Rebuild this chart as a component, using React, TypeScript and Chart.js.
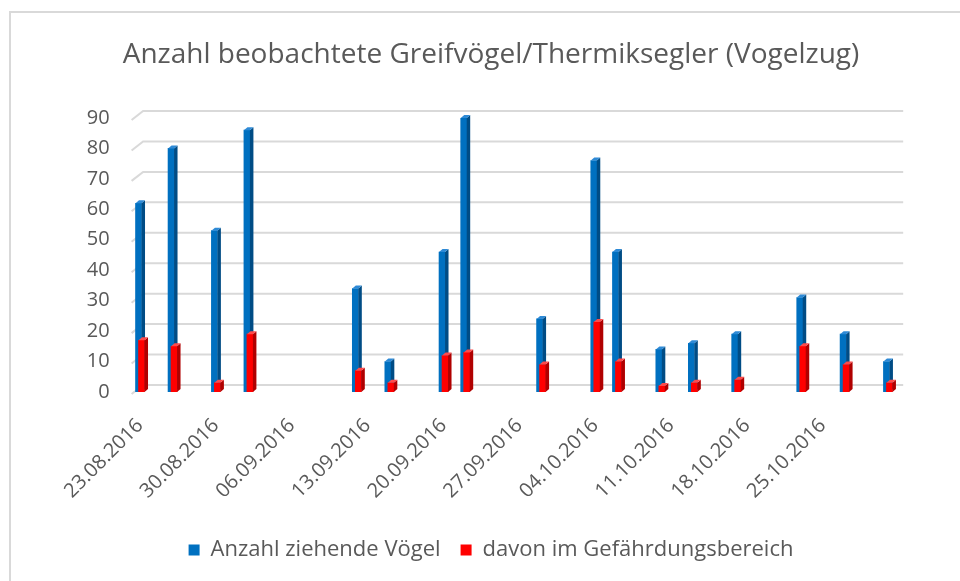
import React, { useEffect, useRef } from 'react';
import { Chart, registerables } from 'chart.js';

Chart.register(...registerables);

// ---- data ----
const chartTitle = 'Anzahl beobachtete Greifvögel/Thermiksegler (Vogelzug)';
const seriesNames = ['Anzahl ziehende Vögel', 'davon im Gefährdungsbereich'];
const axisStart = '23.08.2016';
const axisEnd = '01.11.2016';
const dates = [
  '23.08.2016', '26.08.2016', '30.08.2016', '02.09.2016', '12.09.2016', '15.09.2016',
  '20.09.2016', '22.09.2016', '29.09.2016', '04.10.2016', '06.10.2016', '10.10.2016',
  '13.10.2016', '17.10.2016', '23.10.2016', '27.10.2016', '31.10.2016',
];
const ziehend = [62, 80, 53, 86, 34, 10, 46, 90, 24, 76, 46, 14, 16, 19, 31, 19, 10];
const gefaehrdet = [17, 15, 3, 19, 7, 3, 12, 13, 9, 23, 10, 2, 3, 4, 15, 9, 3];
const xTickLabels = [
  '23.08.2016', '30.08.2016', '06.09.2016', '13.09.2016', '20.09.2016',
  '27.09.2016', '04.10.2016', '11.10.2016', '18.10.2016', '25.10.2016',
];
const yTickValues = [0, 10, 20, 30, 40, 50, 60, 70, 80, 90];

// ---- helpers ----
function dayIndex(s: string): number {
  const [d, m, y] = s.split('.').map(Number);
  const [d0, m0, y0] = axisStart.split('.').map(Number);
  return Math.round((Date.UTC(y, m - 1, d) - Date.UTC(y0, m0 - 1, d0)) / 86400000);
}

const FONT = "'Open Sans', 'Noto Sans', sans-serif";
const TEXT = '#595959';
const GRID = '#d9d9d9';

const faces = [
  { front: '#0070C0', side: '#004c85', cap: '#2e8ad6', shift: -1.5 },
  { front: '#FF0000', side: '#b00000', cap: '#ff4a4a', shift: 1.5 },
];

const framePlugin = {
  id: 'frame',
  beforeDraw(chart: any) {
    const { ctx, width, height } = chart;
    ctx.save();
    ctx.fillStyle = '#ffffff';
    ctx.fillRect(0, 0, width, height);
    ctx.strokeStyle = GRID;
    ctx.lineWidth = 2;
    ctx.beginPath();
    ctx.moveTo(10, height);
    ctx.lineTo(10, 12);
    ctx.lineTo(width, 12);
    ctx.stroke();
    ctx.restore();
  },
};

const gridPlugin = {
  id: 'grid3d',
  beforeDatasetsDraw(chart: any) {
    const { ctx, chartArea } = chart;
    const ys = chart.scales.y;
    ctx.save();
    ctx.strokeStyle = GRID;
    ctx.lineWidth = 2;
    yTickValues.forEach((v) => {
      const y = ys.getPixelForValue(v);
      ctx.beginPath();
      ctx.moveTo(chartArea.left - 3, y + 2);
      ctx.lineTo(chartArea.left + 8.5, y - 7);
      ctx.lineTo(chartArea.right - 1, y - 7);
      ctx.stroke();
    });
    ctx.restore();
  },
};

const bar3dPlugin = {
  id: 'bar3d',
  beforeDatasetDraw(chart: any, args: any) {
    chart.ctx.save();
    chart.ctx.translate(faces[args.index].shift, 0);
  },
  afterDatasetDraw(chart: any, args: any) {
    const ctx = chart.ctx;
    const f = faces[args.index];
    const dx = 3.5;
    const dy = 3;
    args.meta.data.forEach((el: any) => {
      const { x, y, base, width } = el.getProps(['x', 'y', 'base', 'width'], true);
      const l = x - width / 2;
      const r = x + width / 2;
      ctx.fillStyle = f.side;
      ctx.beginPath();
      ctx.moveTo(r, y);
      ctx.lineTo(r + dx, y - dy);
      ctx.lineTo(r + dx, base - dy);
      ctx.lineTo(r, base);
      ctx.closePath();
      ctx.fill();
      ctx.fillStyle = f.cap;
      ctx.beginPath();
      ctx.moveTo(l, y);
      ctx.lineTo(l + dx, y - dy);
      ctx.lineTo(r + dx, y - dy);
      ctx.lineTo(r, y);
      ctx.closePath();
      ctx.fill();
    });
    ctx.restore();
  },
};

export default function App() {
  const canvasRef = useRef<HTMLCanvasElement>(null);

  useEffect(() => {
    if (!canvasRef.current) return;
    const xs = dates.map(dayIndex);
    const xTickValues = xTickLabels.map(dayIndex);
    const lastDay = dayIndex(axisEnd);

    const chart = new Chart(canvasRef.current, {
      type: 'bar',
      data: {
        datasets: [
          {
            label: seriesNames[0],
            data: xs.map((x, i) => ({ x, y: ziehend[i] })),
            backgroundColor: faces[0].front,
            borderWidth: 0,
            barThickness: 6,
            grouped: false,
            order: 2,
          },
          {
            label: seriesNames[1],
            data: xs.map((x, i) => ({ x, y: gefaehrdet[i] })),
            backgroundColor: faces[1].front,
            borderWidth: 0,
            barThickness: 6,
            grouped: false,
            order: 1,
          },
        ],
      },
      options: {
        animation: false,
        responsive: true,
        maintainAspectRatio: false,
        layout: { padding: { left: 77.8, right: 55.8, top: 0, bottom: 10 } },
        plugins: {
          tooltip: { enabled: false },
          title: {
            display: true,
            text: chartTitle,
            color: TEXT,
            font: { family: FONT, size: 28, weight: 'normal' },
            padding: { top: 38.2, bottom: 46.2 },
          },
          legend: {
            position: 'bottom',
            labels: {
              color: TEXT,
              font: { family: FONT, size: 22 },
              boxWidth: 11,
              boxHeight: 11,
              padding: 20,
              sort: (a: any, b: any) => a.datasetIndex - b.datasetIndex,
            },
          },
        },
        scales: {
          x: {
            type: 'linear',
            offset: false,
            min: -0.5,
            max: lastDay + 0.5,
            grid: { display: false, drawTicks: false, offset: false },
            border: { display: false },
            afterBuildTicks: (scale: any) => {
              scale.ticks = xTickValues.map((v) => ({ value: v }));
            },
            afterFit: (scale: any) => {
              scale.height = 127;
            },
            ticks: {
              autoSkip: false,
              minRotation: 45,
              maxRotation: 45,
              padding: 22,
              labelOffset: 0,
              color: TEXT,
              font: { family: FONT, size: 20 },
              callback: (_v: any, i: number) => xTickLabels[i],
            },
          },
          y: {
            min: 0,
            max: 90,
            grid: { display: false, drawTicks: false },
            border: { display: false },
            afterBuildTicks: (scale: any) => {
              scale.ticks = yTickValues.map((v) => ({ value: v }));
            },
            afterFit: (scale: any) => {
              scale.width = 56.8;
            },
            ticks: {
              padding: 25,
              color: TEXT,
              font: { family: FONT, size: 20 },
            },
          },
        },
      },
      plugins: [framePlugin, gridPlugin, bar3dPlugin],
    } as any);
    return () => chart.destroy();
  }, []);

  return (
    <div style={{ position: 'fixed', left: 0, top: 0, width: 960, height: 581, background: '#fff' }}>
      <canvas ref={canvasRef} />
    </div>
  );
}
